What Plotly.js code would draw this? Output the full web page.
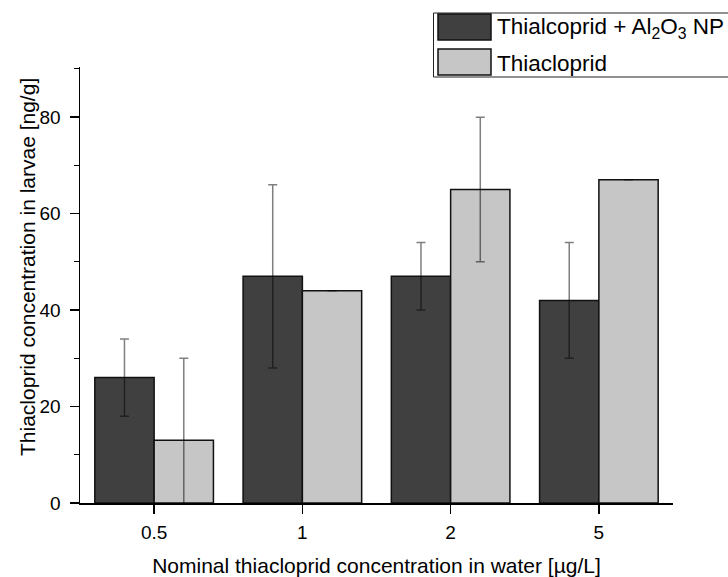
<!DOCTYPE html>
<html>
<head>
<meta charset="utf-8">
<script src="https://cdn.plot.ly/plotly-3.0.1.min.js"></script>
<style>html,body{margin:0;padding:0;background:#fff;}#chart{width:728px;height:577px;}</style>
</head>
<body>
<div id="chart"></div>
<script>
// Data
const categories = ['0.5', '1', '2', '5'];
const withNP = [26, 47, 47, 42];
const withNPErr = [8, 19, 7, 12];
const thiacloprid = [13, 44, 65, 67];
const thiaclopridErr = [17, null, 15, null];
const seriesNames = ['Thialcoprid + Al<sub>2</sub>O<sub>3</sub> NP', 'Thiacloprid'];
const colors = ['#404040', '#c6c6c6'];
const xTitle = 'Nominal thiacloprid concentration in water [µg/L]';
const yTitle = 'Thiacloprid concentration in larvae [ng/g]';

// Plot area geometry (pixels)
const W = 728, H = 577;
const L = 80, R = 55, T = 67, B = 74;
const pw = W - L - R, ph = H - T - B;
const px2x = p => (p - L) / pw;
const px2y = p => (H - B - p) / ph;

const font = 'Arial, "Liberation Sans", sans-serif';

const traces = [
  {
    type: 'bar', x: categories, y: withNP, name: seriesNames[0], showlegend: false,
    marker: {color: colors[0], line: {color: '#111', width: 1.5}},
    error_y: {type: 'data', array: withNPErr, visible: true, color: 'rgba(0,0,0,0.5)', thickness: 1.5, width: 4.5}
  },
  {
    type: 'bar', x: categories, y: thiacloprid, name: seriesNames[1], showlegend: false,
    marker: {color: colors[1], line: {color: '#111', width: 1.5}},
    error_y: {type: 'data', array: thiaclopridErr, visible: true, color: 'rgba(0,0,0,0.5)', thickness: 1.5, width: 4.5}
  }
];

// Manual legend
const rowsPx = [[14, 40], [49, 75]];
const shapes = [
  {type: 'rect', xref: 'paper', yref: 'paper', x0: px2x(433.5), x1: px2x(745), y0: px2y(77), y1: px2y(13),
   line: {color: '#222', width: 1}, fillcolor: 'rgba(0,0,0,0)'}
];
const annotations = [];
rowsPx.forEach((r, i) => {
  shapes.push({type: 'rect', xref: 'paper', yref: 'paper', x0: px2x(438), x1: px2x(491), y0: px2y(r[1]), y1: px2y(r[0]),
    line: {color: '#111', width: 1.5}, fillcolor: colors[i]});
  annotations.push({xref: 'paper', yref: 'paper', x: px2x(495), y: px2y((r[0] + r[1]) / 2 + 1), xanchor: 'left', yanchor: 'middle',
    text: seriesNames[i], showarrow: false, font: {family: font, size: 22.5, color: '#000'}});
});
// y-axis title (placed as in the reference, slightly above the axis centre)
annotations.push({xref: 'paper', yref: 'paper', x: px2x(27), y: px2y(267), xanchor: 'center', yanchor: 'middle',
  textangle: -90, text: yTitle, showarrow: false, font: {family: font, size: 21, color: '#000'}});

const layout = {
  width: W, height: H,
  margin: {l: L, r: R, t: T, b: B, pad: 0},
  paper_bgcolor: '#fff', plot_bgcolor: '#fff',
  font: {family: font, color: '#000'},
  barmode: 'group', bargap: 0.2, bargroupgap: 0,
  showlegend: false,
  xaxis: {
    type: 'category', range: [-0.5, 3.5], showgrid: false, zeroline: false,
    showline: true, linecolor: '#000', linewidth: 1.5,
    ticks: 'outside', ticklen: 9, tickwidth: 1.5, tickcolor: '#000', ticklabelstandoff: 3,
    tickfont: {family: font, size: 19, color: '#000'},
    title: {text: xTitle, font: {family: font, size: 21, color: '#000'}, standoff: 16}
  },
  yaxis: {
    range: [0, 90.4], showgrid: false, zeroline: false,
    showline: true, linecolor: '#000', linewidth: 1.5,
    tickvals: [0, 20, 40, 60, 80],
    ticks: 'outside', ticklen: 9, tickwidth: 1.5, tickcolor: '#000', ticklabelstandoff: 5,
    minor: {tickvals: [10, 30, 50, 70, 90], ticks: 'outside', ticklen: 5, tickwidth: 1, tickcolor: '#000'},
    tickfont: {family: font, size: 19, color: '#000'}
  },
  shapes: shapes,
  annotations: annotations
};

Plotly.newPlot('chart', traces, layout, {displayModeBar: false, staticPlot: true});
</script>
</body>
</html>
